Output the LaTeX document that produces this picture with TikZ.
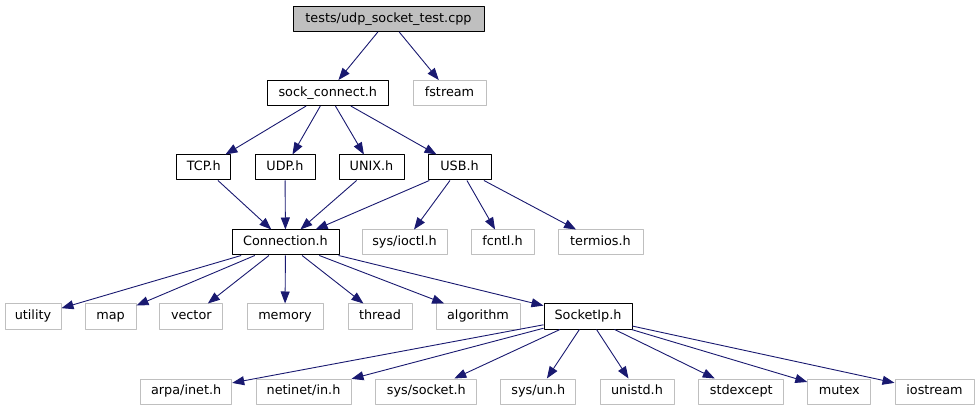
\documentclass[tikz,border=0pt]{standalone}
\usepackage{fontspec}
\setmainfont{DejaVu Sans}
\usepackage{xcolor}
\usetikzlibrary{arrows.meta}

\definecolor{edgeblue}{HTML}{191970}
\definecolor{boxgray}{HTML}{BFBFBF}

\begin{document}
\begin{tikzpicture}[
  x=1pt, y=-1pt,
  >={Triangle[length=12pt,width=9pt]},
  line join=round,
  every node/.style={font=\fontsize{12.8}{15}\selectfont, rectangle,
    minimum height=25pt, inner sep=0pt, text height=9.6pt, text depth=3pt},
  file/.style={draw=black, line width=1pt},
  sysfile/.style={draw=boxgray, line width=1pt},
  mainfile/.style={file, fill=boxgray},
  edge/.style={->, draw=edgeblue, line width=0.9pt}
]
  \useasboundingbox (0,0) rectangle (979,411);

  % top: the test file and its direct includes
  \node[mainfile, minimum width=191pt] (test) at (388.5,19) {tests/udp\_socket\_test.cpp};
  \node[file, minimum width=121pt] (sockconnect) at (327.8,93) {sock\_connect.h};
  \node[sysfile, minimum width=73pt] (fstream) at (449.5,93) {fstream};

  % connection types
  \node[file, minimum width=54pt] (tcp)  at (203.8,167.5) {TCP.h};
  \node[file, minimum width=60pt] (udp)  at (285,167.5) {UDP.h};
  \node[file, minimum width=65pt] (unix) at (371.5,167.5) {UNIX.h};
  \node[file, minimum width=63pt] (usb)  at (459.5,167.5) {USB.h};

  % base class and serial headers
  \node[file, minimum width=107pt] (connection) at (285.5,242.5) {Connection.h};
  \node[sysfile, minimum width=85pt] (ioctl)   at (404.5,242.5) {sys/ioctl.h};
  \node[sysfile, minimum width=63pt] (fcntl)   at (502.5,242.5) {fcntl.h};
  \node[sysfile, minimum width=85pt] (termios) at (600.5,242.5) {termios.h};

  % standard library
  \node[sysfile, minimum width=56pt] (utility)   at (33,316.5)  {utility};
  \node[sysfile, minimum width=51pt] (map)       at (110.5,316.5) {map};
  \node[sysfile, minimum width=63pt] (vector)    at (191.3,316.5) {vector};
  \node[sysfile, minimum width=76pt] (memory)    at (285,316.5) {memory};
  \node[sysfile, minimum width=64pt] (thread)    at (380,316.5) {thread};
  \node[sysfile, minimum width=84pt] (algorithm) at (478,316.5) {algorithm};
  \node[file, minimum width=88pt] (socketip)     at (588,316.5) {SocketIp.h};

  % socket headers
  \node[sysfile, minimum width=91pt]  (arpa)      at (186.2,391.5) {arpa/inet.h};
  \node[sysfile, minimum width=95pt]  (netinet)   at (303.5,391.5) {netinet/in.h};
  \node[sysfile, minimum width=101pt] (syssocket) at (426.3,391.5) {sys/socket.h};
  \node[sysfile, minimum width=75pt]  (sysun)     at (538.3,391.5) {sys/un.h};
  \node[sysfile, minimum width=74pt]  (unistd)    at (637,391.5) {unistd.h};
  \node[sysfile, minimum width=85pt]  (stdexcept) at (741.3,391.5) {stdexcept};
  \node[sysfile, minimum width=63pt]  (mutex)     at (839.3,391.5) {mutex};
  \node[sysfile, minimum width=79pt]  (iostream)  at (934.5,391.5) {iostream};

  % include edges
  \foreach \src/\dst in {test/sockconnect, test/fstream,
      sockconnect/tcp, sockconnect/udp, sockconnect/unix, sockconnect/usb,
      tcp/connection, udp/connection, unix/connection, usb/connection,
      usb/ioctl, usb/fcntl, usb/termios,
      connection/utility, connection/map, connection/vector, connection/memory,
      connection/thread, connection/algorithm, connection/socketip,
      socketip/arpa, socketip/netinet, socketip/syssocket, socketip/sysun,
      socketip/unistd, socketip/stdexcept, socketip/mutex, socketip/iostream}
    {\draw[edge] (\src) -- (\dst);}
\end{tikzpicture}
\end{document}
